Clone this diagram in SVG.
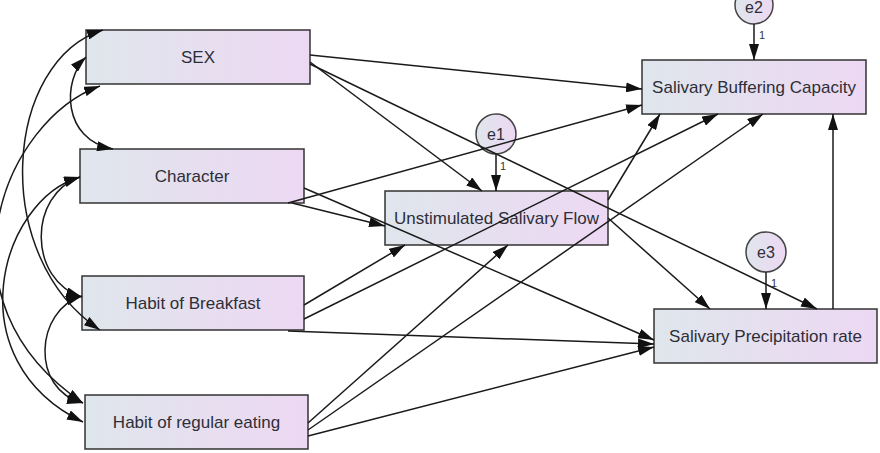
<svg xmlns="http://www.w3.org/2000/svg" width="880" height="453" viewBox="0 0 880 453">
<defs>
<linearGradient id="g" x1="0" y1="0" x2="1" y2="0">
<stop offset="0" stop-color="#dfe6ec"/>
<stop offset="1" stop-color="#edd8f3"/>
</linearGradient>
<marker id="ah" viewBox="0 0 16 10" refX="16" refY="5" markerWidth="16" markerHeight="10" markerUnits="userSpaceOnUse" orient="auto-start-reverse">
<path d="M0,0 L16,5 L0,10 z" fill="#111"/>
</marker>
</defs>
<style>
.box{fill:url(#g);stroke:#333;stroke-width:1.5}
.err{fill:url(#g);stroke:#444;stroke-width:1.5}
.lbl{font-family:"Liberation Sans",Arial,sans-serif;font-size:17px;fill:#2e2e38;text-anchor:middle}
.elbl{font-family:"Liberation Sans",Arial,sans-serif;font-size:16px;fill:#2e2e38;text-anchor:middle}
.one{font-family:"Liberation Sans",Arial,sans-serif;font-size:11px;fill:#333}
.c{fill:none;stroke:#1a1a1a;stroke-width:1.5;marker-end:url(#ah)}
.cov{fill:none;stroke:#1a1a1a;stroke-width:1.5;marker-start:url(#ah);marker-end:url(#ah)}
</style>
<rect width="880" height="453" fill="#fff"/>
<g id="SEX"><rect class="box" x="86" y="30" width="224" height="54"/><text class="lbl" x="198" y="63">SEX</text></g>
<g id="Character"><rect class="box" x="80" y="149" width="224" height="54"/><text class="lbl" x="192" y="182">Character</text></g>
<g id="HabitBreakfast"><rect class="box" x="82" y="276" width="222" height="54"/><text class="lbl" x="193" y="309">Habit of Breakfast</text></g>
<g id="HabitRegular"><rect class="box" x="85" y="395" width="223" height="54"/><text class="lbl" x="196.5" y="428">Habit of regular eating</text></g>
<g id="USF"><rect class="box" x="385" y="191" width="223" height="54"/><text class="lbl" x="496.5" y="224">Unstimulated Salivary Flow</text></g>
<g id="SBC"><rect class="box" x="642" y="60" width="224" height="54"/><text class="lbl" x="754" y="93">Salivary Buffering Capacity</text></g>
<g id="SPR"><rect class="box" x="654" y="309" width="223" height="54"/><text class="lbl" x="765.5" y="342">Salivary Precipitation rate</text></g>
<g id="e1"><circle class="err" cx="496" cy="134" r="20"/><text class="elbl" x="496" y="140">e1</text></g>
<g id="e2"><circle class="err" cx="754" cy="5" r="19"/><text class="elbl" x="754" y="13">e2</text></g>
<g id="e3"><circle class="err" cx="766" cy="252" r="20"/><text class="elbl" x="766" y="258">e3</text></g>
<g id="connectors">
<path class="c" d="M310,55 L642,89"/>
<path class="c" d="M310,62 L482,191"/>
<path class="c" d="M310,64 L817,309"/>
<path class="c" d="M288,203 L642,105"/>
<path class="c" d="M292,203 L385,226"/>
<path class="c" d="M304,188 L654,340"/>
<path class="c" d="M304,305 L405,245"/>
<path class="c" d="M304,319 L718,114"/>
<path class="c" d="M288,331 L654,344"/>
<path class="c" d="M308,423 L508,245"/>
<path class="c" d="M308,430 L763,114"/>
<path class="c" d="M308,436 L654,347"/>
<path class="c" d="M608,200 L660,114"/>
<path class="c" d="M608,218 L710,309"/>
<path class="c" d="M833,309 L833,114"/>
<path class="c" d="M496,154 L496,191"/>
<path class="c" d="M754,24 L754,60"/>
<path class="c" d="M766,272 L766,309"/>
<path class="cov" d="M86,57 C62,80 62,140 113,149"/>
<path class="cov" d="M103,30 C5,60 -12,255 100,330"/>
<path class="cov" d="M100,86 C5,120 -70,300 83,403"/>
<path class="cov" d="M80,177 C0,200 -45,360 83,422"/>
<path class="cov" d="M80,177 C28,195 28,280 82,297"/>
<path class="cov" d="M82,296 C35,310 30,390 83,403"/>
</g>
<text class="one" x="500" y="170">1</text>
<text class="one" x="759" y="39">1</text>
<text class="one" x="771" y="287">1</text>
</svg>
